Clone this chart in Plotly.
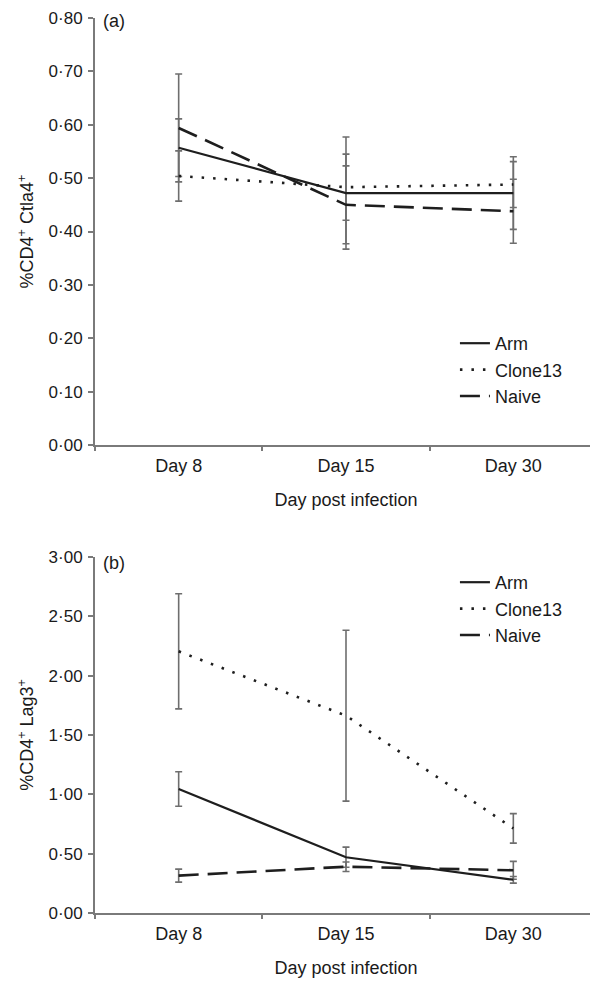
import plotly.graph_objects as go

days = ["Day 8", "Day 15", "Day 30"]
series = ["Arm", "Clone13", "Naive"]

# Panel (a): %CD4+ Ctla4+
ctla4_arm = [0.557, 0.472, 0.472]
ctla4_arm_err = [0.054, 0.105, 0.068]
ctla4_clone13 = [0.504, 0.483, 0.488]
ctla4_clone13_err = [0.047, 0.062, 0.043]
ctla4_naive = [0.594, 0.450, 0.438]
ctla4_naive_err = [0.101, 0.073, 0.060]

# Panel (b): %CD4+ Lag3+
lag3_arm = [1.045, 0.470, 0.280]
lag3_arm_err = [0.145, 0.085, 0.028]
lag3_clone13 = [2.205, 1.663, 0.713]
lag3_clone13_err = [0.485, 0.720, 0.124]
lag3_naive = [0.315, 0.390, 0.360]
lag3_naive_err = [0.055, 0.040, 0.075]

ctla4_ticks = [0.0, 0.1, 0.2, 0.3, 0.4, 0.5, 0.6, 0.7, 0.8]
ctla4_ticktext = ["0·00", "0·10", "0·20", "0·30", "0·40", "0·50", "0·60", "0·70", "0·80"]
lag3_ticks = [0.0, 0.5, 1.0, 1.5, 2.0, 2.5, 3.0]
lag3_ticktext = ["0·00", "0·50", "1·00", "1·50", "2·00", "2·50", "3·00"]

FONT = "Liberation Sans, Arial, sans-serif"
TXT = "#1a1a1a"
LINE = "#1e1e1e"
ERR = "#6e6e6e"
AXIS = "#7a7a7a"

styles = {
    "Arm": dict(color=LINE, width=2.2, dash="solid"),
    "Clone13": dict(color=LINE, width=2.6, dash="2.5px,9px"),
    "Naive": dict(color=LINE, width=2.6, dash="20px,9px"),
}

fig = go.Figure()

panels = [
    ("x", "y", "legend", [ctla4_arm, ctla4_clone13, ctla4_naive],
     [ctla4_arm_err, ctla4_clone13_err, ctla4_naive_err]),
    ("x2", "y2", "legend2", [lag3_arm, lag3_clone13, lag3_naive],
     [lag3_arm_err, lag3_clone13_err, lag3_naive_err]),
]

for xa, ya, lg, vals, errs in panels:
    for name, v, e in zip(series, vals, errs):
        fig.add_trace(go.Scatter(
            x=days, y=v, mode="markers", xaxis=xa, yaxis=ya,
            marker=dict(size=1, color="rgba(0,0,0,0)"),
            error_y=dict(type="data", array=e, visible=True, color=ERR,
                         thickness=1.6, width=3.5),
            showlegend=False, hoverinfo="skip"))
    for name, v in zip(series, vals):
        fig.add_trace(go.Scatter(
            x=days, y=v, mode="lines", name=name, xaxis=xa, yaxis=ya,
            line=styles[name], legend=lg))

line_common = dict(showline=True, linecolor=AXIS, linewidth=2, showgrid=False,
                   zeroline=False, ticks="outside", tickcolor=AXIS, tickwidth=1.5,
                   automargin=False)

xcommon = dict(type="category", categoryorder="array", categoryarray=days,
               range=[-0.5, 2.5], tickson="boundaries", ticklen=4, ticklabelstandoff=3,
               tickfont=dict(size=18, color=TXT, family=FONT),
               title=dict(text="Day post infection", font=dict(size=18, color=TXT, family=FONT),
                          standoff=19),
               **line_common)
ycommon = dict(ticklen=5, ticklabelstandoff=2,
               tickfont=dict(size=17, color=TXT, family=FONT), **line_common)

TOP0 = 0.5229
BOT1 = 0.3978
PLOT_H = 895
PLOT_BOTTOM = 905  # figure coords of plot-area bottom (t=10 + 895)

fig.update_layout(
    width=590, height=973,
    margin=dict(l=87, r=1, t=10, b=68),
    paper_bgcolor="white", plot_bgcolor="white",
    font=dict(family=FONT, size=18, color=TXT),
    xaxis=dict(domain=[0, 1], anchor="y", **xcommon),
    yaxis=dict(domain=[TOP0, 1], anchor="x", range=[0, 0.8],
               tickvals=ctla4_ticks, ticktext=ctla4_ticktext,
               title=dict(text="%CD4<sup>+</sup> Ctla4<sup>+</sup>",
                          font=dict(size=18, color=TXT, family=FONT), standoff=10),
               **ycommon),
    xaxis2=dict(domain=[0, 1], anchor="y2", **xcommon),
    yaxis2=dict(domain=[0, BOT1], anchor="x2", range=[0, 3.0],
                tickvals=lag3_ticks, ticktext=lag3_ticktext,
                title=dict(text="%CD4<sup>+</sup> Lag3<sup>+</sup>",
                           font=dict(size=18, color=TXT, family=FONT), standoff=10),
                **ycommon),
    legend=dict(x=0.717, y=(PLOT_BOTTOM - 317) / PLOT_H, xref="paper", yref="paper",
                xanchor="left", yanchor="top", bgcolor="rgba(0,0,0,0)",
                font=dict(size=18, family=FONT, color=TXT), tracegroupgap=0),
    legend2=dict(x=0.717, y=(PLOT_BOTTOM - 556) / PLOT_H, xref="paper", yref="paper",
                 xanchor="left", yanchor="top", bgcolor="rgba(0,0,0,0)",
                 font=dict(size=18, family=FONT, color=TXT), tracegroupgap=0),
    showlegend=True,
)

fig.add_annotation(text="(a)", xref="paper", yref="y domain", x=0.012, y=0.993,
                   xanchor="left", yanchor="middle", showarrow=False,
                   font=dict(size=18, family=FONT, color=TXT))
fig.add_annotation(text="(b)", xref="paper", yref="y2 domain", x=0.012, y=0.983,
                   xanchor="left", yanchor="middle", showarrow=False,
                   font=dict(size=18, family=FONT, color=TXT))

fig.write_html("out.html")
